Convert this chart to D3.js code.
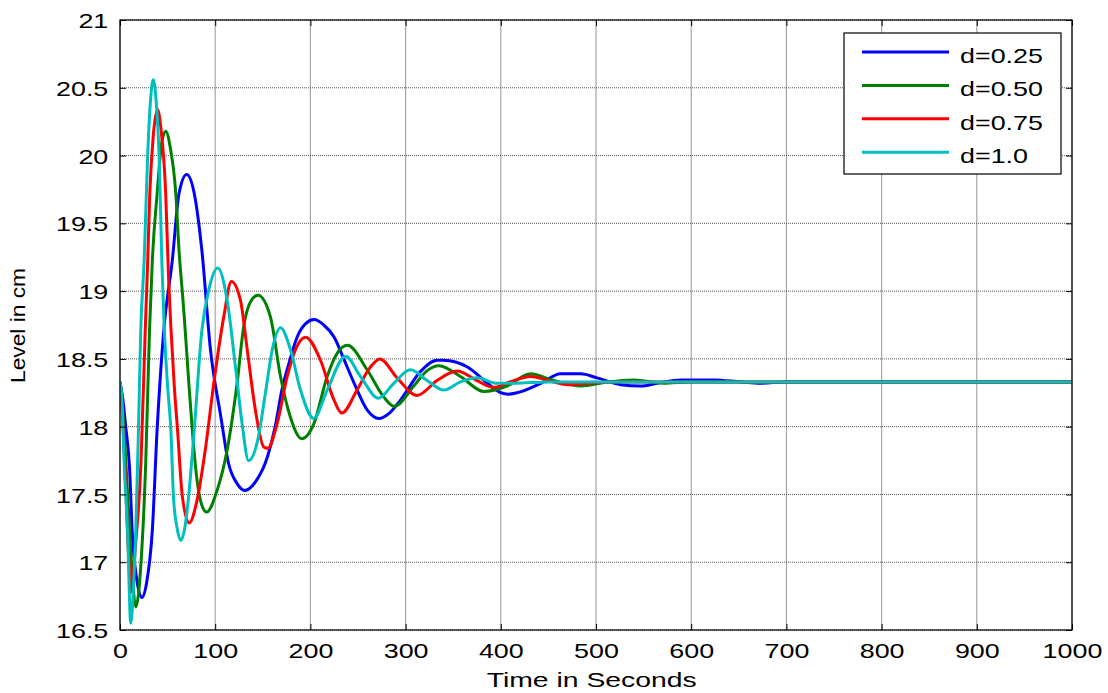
<!DOCTYPE html>
<html>
<head>
<meta charset="utf-8">
<script src="https://cdn.jsdelivr.net/npm/d3@7"></script>
<style>
  html, body { margin: 0; padding: 0; background: #fff; }
  svg { display: block; font-family: "Liberation Sans", Arial, sans-serif; }
</style>
</head>
<body>
<svg id="chart" width="1108" height="693"></svg>
<script>
// ---------------- data ----------------
const xTicks = [0, 100, 200, 300, 400, 500, 600, 700, 800, 900, 1000];
const yTicks = [16.5, 17, 17.5, 18, 18.5, 19, 19.5, 20, 20.5, 21];
const seriesNames = ["d=0.25", "d=0.50", "d=0.75", "d=1.0"];
const seriesColors = ["#0000ff", "#008000", "#ff0000", "#00bfbf"];

const d025 = [[0,18.33],[3,18.2],[6,18.0],[10,17.7],[13,17.2],[17,16.9],[23,16.74],[28,16.85],[34,17.24],[39,17.98],[46,18.71],[55,19.23],[62,19.72],[70,19.86],[78,19.72],[86,19.3],[95,18.57],[106,18.07],[114,17.73],[123,17.58],[131,17.53],[143,17.6],[155,17.78],[163,18.0],[170,18.27],[178,18.48],[186,18.66],[195,18.76],[204,18.79],[214,18.75],[225,18.66],[235,18.5],[246,18.32],[260,18.12],[272,18.06],[283,18.1],[295,18.2],[316,18.41],[333,18.49],[340,18.49],[365,18.44],[386,18.32],[400,18.25],[408,18.24],[417,18.25],[442,18.32],[463,18.39],[484,18.39],[501,18.36],[526,18.31],[547,18.30],[564,18.32],[589,18.345],[623,18.345],[652,18.33],[673,18.32],[700,18.33],[1000,18.33]];

const d050 = [[0,18.33],[4,18.0],[8,17.5],[12,17.0],[16.6,16.67],[22,16.99],[27,17.73],[31,18.71],[34,19.23],[39,19.72],[44,20.1],[48,20.18],[53,20.05],[58.6,19.72],[62,19.3],[65.6,18.98],[67.5,18.81],[72.3,18.32],[76,17.97],[81,17.6],[86,17.42],[91,17.37],[102,17.53],[112.6,17.83],[123,18.32],[130,18.74],[137,18.92],[145,18.97],[158,18.81],[168.6,18.37],[179,18.07],[191,17.91],[203.6,18.02],[217.6,18.37],[228,18.54],[239,18.60],[259.6,18.42],[277,18.22],[288,18.15],[308.6,18.30],[322,18.41],[335,18.45],[357.6,18.37],[382,18.26],[406.7,18.30],[431,18.39],[455.7,18.34],[484,18.30],[511.8,18.33],[540,18.345],[571,18.32],[600,18.33],[1000,18.33]];

const d075 = [[0,18.33],[4,17.9],[8,17.2],[12,16.78],[16,17.1],[22,17.73],[26.5,18.71],[29,19.2],[31.3,19.72],[35,20.15],[39.4,20.34],[43,20.2],[48,19.72],[51,19.1],[53.4,18.74],[57,18.3],[60.4,17.98],[65.6,17.48],[72.7,17.29],[81,17.46],[90,17.85],[98.5,18.32],[109,18.81],[117,19.07],[126.6,18.93],[133.6,18.57],[142.3,18.12],[151,17.85],[155,17.84],[165,18.02],[175.6,18.37],[185,18.58],[195,18.66],[210.6,18.49],[224.6,18.20],[233,18.10],[249,18.27],[262,18.43],[273,18.50],[291,18.36],[312,18.23],[333,18.34],[354,18.41],[375,18.34],[392,18.29],[413.6,18.34],[431,18.37],[455.7,18.33],[470,18.31],[490,18.32],[520,18.33],[1000,18.33]];

const d100 = [[0,18.33],[2,18.2],[4.4,17.73],[7.9,17.24],[11.3,16.55],[14,16.8],[16.6,17.24],[19.4,17.98],[21.8,18.71],[25.4,19.23],[28.9,19.97],[32,20.4],[34.9,20.56],[38,20.4],[41.2,19.97],[43.9,19.23],[46.4,18.74],[50,18.3],[53.4,17.98],[56.2,17.48],[60,17.25],[63.9,17.16],[68,17.25],[72,17.48],[78,17.98],[86,18.71],[93.3,19.01],[102.7,19.17],[112.6,18.93],[121.3,18.44],[128.3,18.02],[135,17.75],[144,17.88],[152.8,18.25],[160,18.57],[168.6,18.73],[179,18.57],[189.6,18.27],[203.6,18.06],[217.6,18.27],[237,18.52],[252.6,18.37],[271.5,18.21],[287.6,18.32],[305,18.42],[322.7,18.34],[340,18.27],[357.6,18.33],[375,18.36],[396,18.32],[413.6,18.32],[450,18.33],[1000,18.33]];

const seriesData = [d025, d050, d075, d100];

// ---------------- layout ----------------
const L = 120, R = 1072, T = 20, B = 630;
const SX = 1.28; // horizontal text stretch of the original picture

const svg = d3.select("#chart");
const x = d3.scaleLinear().domain([0, 1000]).range([L, R]);
const y = d3.scaleLinear().domain([16.5, 21]).range([B, T]);

// grid
const grid = svg.append("g");
grid.selectAll("line.vg").data(xTicks).join("line")
  .attr("x1", d => x(d)).attr("x2", d => x(d))
  .attr("y1", T).attr("y2", B)
  .attr("stroke", "#a6a6a6").attr("stroke-width", 1.2);
grid.selectAll("line.hg").data(yTicks).join("line")
  .attr("x1", L).attr("x2", R)
  .attr("y1", d => y(d)).attr("y2", d => y(d))
  .attr("stroke", "#555").attr("stroke-width", 1)
  .attr("stroke-dasharray", "1,1");

// clip
svg.append("clipPath").attr("id", "clip")
  .append("rect").attr("x", L).attr("y", T).attr("width", R - L).attr("height", B - T);

const line = d3.line()
  .x(d => x(d[0])).y(d => y(d[1]))
  .curve(d3.curveMonotoneX);

svg.append("g").attr("clip-path", "url(#clip)")
  .selectAll("path").data(seriesData).join("path")
  .attr("d", line)
  .attr("fill", "none")
  .attr("stroke", (d, i) => seriesColors[i])
  .attr("stroke-width", 3)
  .attr("stroke-linejoin", "round");

// axes (inward ticks)
const fmt = d => String(d);
const gB = svg.append("g").attr("transform", `translate(0,${B})`)
  .call(d3.axisBottom(x).tickValues(xTicks).tickSize(-6).tickFormat(fmt));
const gT = svg.append("g").attr("transform", `translate(0,${T})`)
  .call(d3.axisTop(x).tickValues(xTicks).tickSize(-6).tickFormat(""));
const gL = svg.append("g").attr("transform", `translate(${L},0)`)
  .call(d3.axisLeft(y).tickValues(yTicks).tickSize(-6).tickFormat(fmt));
const gR = svg.append("g").attr("transform", `translate(${R},0)`)
  .call(d3.axisRight(y).tickValues(yTicks).tickSize(-6).tickFormat(""));

[gB, gT, gL, gR].forEach(g => {
  g.select(".domain").remove();
  g.selectAll(".tick line").attr("stroke", "#000").attr("stroke-width", 1);
});

gB.selectAll(".tick text")
  .attr("y", 28).attr("dy", 0)
  .attr("transform", `scale(${SX},1)`)
  .attr("font-size", 21).attr("font-family", "Liberation Sans, Arial, sans-serif")
  .attr("fill", "#000");
gL.selectAll(".tick text")
  .attr("x", -11.7 / SX).attr("dy", "0.36em")
  .attr("transform", `scale(${SX},1)`)
  .attr("font-size", 21).attr("font-family", "Liberation Sans, Arial, sans-serif")
  .attr("fill", "#000");

// box
svg.append("rect").attr("x", L).attr("y", T).attr("width", R - L).attr("height", B - T)
  .attr("fill", "none").attr("stroke", "#000").attr("stroke-width", 1.2);

// axis titles
svg.append("text")
  .attr("x", 591.7).attr("y", 686.7)
  .attr("text-anchor", "middle")
  .attr("font-size", 21)
  .attr("textLength", 210).attr("lengthAdjust", "spacingAndGlyphs")
  .text("Time in Seconds");
svg.append("text")
  .attr("transform", "translate(25,325.5) rotate(-90)")
  .attr("text-anchor", "middle")
  .attr("font-size", 21)
  .attr("textLength", 115).attr("lengthAdjust", "spacingAndGlyphs")
  .text("Level in cm");

// legend
const leg = svg.append("g");
leg.append("rect").attr("x", 844).attr("y", 33).attr("width", 217).attr("height", 141)
  .attr("fill", "#fff").attr("stroke", "#000").attr("stroke-width", 1.2);
const rowY = i => 52 + i * 33.4;
const rows = leg.selectAll("g.row").data(seriesNames).join("g").attr("class", "row");
rows.append("line")
  .attr("x1", 862).attr("x2", 949)
  .attr("y1", (d, i) => rowY(i)).attr("y2", (d, i) => rowY(i))
  .attr("stroke", (d, i) => seriesColors[i]).attr("stroke-width", 3);
rows.append("text")
  .attr("transform", (d, i) => `translate(960,${rowY(i) + 11}) scale(${SX},1)`)
  .attr("font-size", 21)
  .attr("fill", "#000")
  .text(d => d);
</script>
</body>
</html>
